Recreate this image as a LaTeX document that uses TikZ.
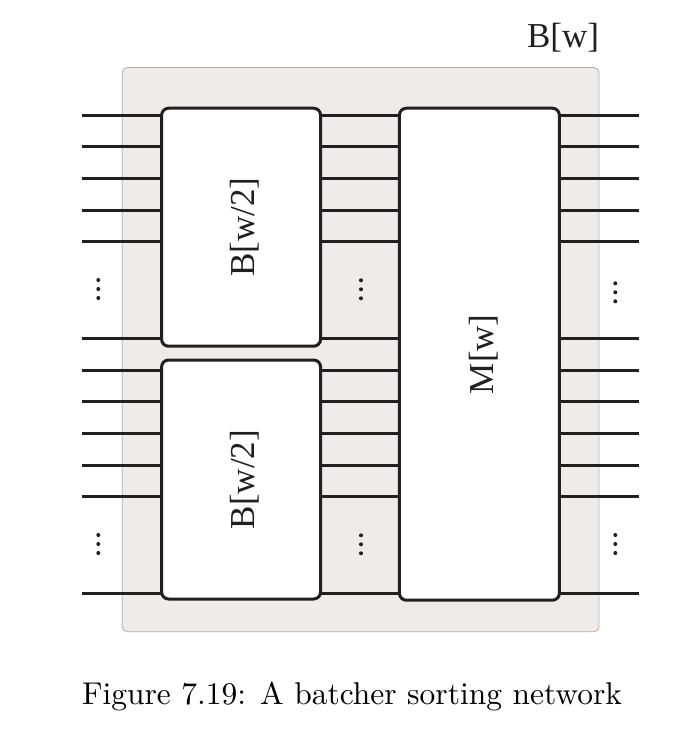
\documentclass[tikz,border=0pt]{standalone}
\usepackage{fontspec}
\newfontfamily\tnr{Liberation Serif}
\newfontfamily\capfont{lmroman10-regular}[Extension=.otf]
\definecolor{bgfill}{HTML}{EFEBE8}
\definecolor{bgedge}{HTML}{B5ABA3}
\definecolor{ink}{HTML}{231F20}
\tikzset{
  netbox/.style={draw=ink, fill=white, line width=3pt, rounded corners=7pt,
    inner sep=0pt, outer sep=0pt},
  wire/.style={draw=ink, line width=3pt},
  lbl/.style={font=\tnr\fontsize{35}{40}\selectfont, text=ink, inner sep=0pt},
}
\begin{document}
\begin{tikzpicture}[x=1pt,y=-1pt]
\useasboundingbox (0,0) rectangle (691,729);
% background
\draw[fill=bgfill, draw=bgedge, line width=0.8pt, rounded corners=5pt] (122.3,67.5) rectangle (599,631.7);
% boxes
\node[netbox, minimum width=159pt, minimum height=238pt] (B1) at (241.1,227.2) {};
\node[netbox, minimum width=159pt, minimum height=239pt] (B2) at (241.1,479.5) {};
\node[netbox, minimum width=160pt, minimum height=492pt] (M) at (479.4,354.2) {};
\node[lbl, rotate=90] (tB1) at ([xshift=4pt]B1.center) {B[w/2]};
\node[lbl, rotate=90] (tB2) at ([xshift=4pt]B2.center) {B[w/2]};
\node[lbl, rotate=90] (tM) at ([xshift=4pt]M.center) {M[w]};
% wires
\foreach \y [count=\i] in {115,146.7,178.3,210,241.7,338.3} {
  \coordinate (La\i) at (82,\y);
  \coordinate (Ra\i) at (638.5,\y);
  \draw[wire] (La\i) -- (B1.west |- La\i);
  \draw[wire] (B1.east |- La\i) -- (M.west |- La\i);
  \draw[wire] (M.east |- La\i) -- (Ra\i);
}
\foreach \y [count=\i] in {370,401.7,433.3,465,496.7,593} {
  \coordinate (Lb\i) at (82,\y);
  \coordinate (Rb\i) at (638.5,\y);
  \draw[wire] (Lb\i) -- (B2.west |- Lb\i);
  \draw[wire] (B2.east |- Lb\i) -- (M.west |- Lb\i);
  \draw[wire] (M.east |- Lb\i) -- (Rb\i);
}
% dots
\foreach \x/\y in {98.3/289, 361/289.3, 615.3/292.3, 98.3/544, 361/544.3, 615.3/544} {
  \foreach \d in {-9,0,9} \fill[ink] (\x,\y+\d) circle (2pt);
}
% labels
\node[lbl, anchor=base] (title) at (563,47) {B[w]};
\node[anchor=base, inner sep=0pt, font=\capfont\fontsize{31.5}{38}\selectfont] (cap) at (352,704) {Figure 7.19: A batcher sorting network};
\end{tikzpicture}
\end{document}
